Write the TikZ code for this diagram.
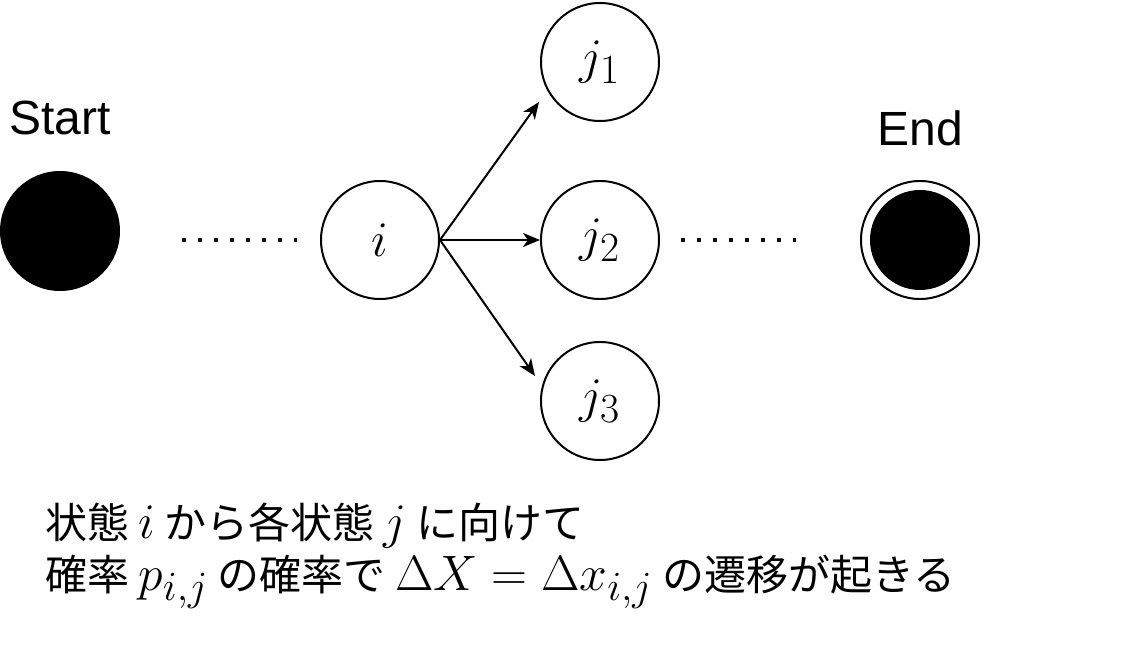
\documentclass[tikz,border=0pt]{standalone}
\usepackage[no-math]{fontspec}
\setmainfont{Liberation Sans}
\newfontfamily\jpfont{Noto Sans CJK JP}
\usepackage{amsmath}
\usetikzlibrary{arrows.meta,positioning}
\newcommand{\capmath}[1]{{\fontsize{28}{28}\selectfont$#1$}}
\tikzset{>={Stealth[length=8.5pt,width=7pt,inset=2.5pt]}}
\tikzset{state/.style={circle, draw, line width=1pt, minimum size=59pt,
    inner sep=0pt, font=\fontsize{30}{32}\selectfont}}
\tikzset{blob/.style={circle, fill=black, minimum size=60pt, inner sep=0pt}}
\tikzset{dotline/.style={line width=2pt, dash pattern=on 2pt off 6pt}}
\tikzset{title/.style={font=\fontsize{24}{28}\selectfont}}
\begin{document}
\begin{tikzpicture}[x=0.5pt,y=-0.5pt]
  \useasboundingbox (0,0) rectangle (1142,662);
  % start and end
  \node[blob] (start) at (60,231) {};
  \node[title] (starttxt) at (60,118) {Start};
  \node[state] (end) at (920,240) {};
  \node[blob, minimum size=50pt] (endin) at (end) {};
  \node[title] (endtxt) at (920,128) {End};
  % states
  \node[state] (i) at (380,240) {$i$};
  \node[state] (j1) at (600,62) {$j_1$};
  \node[state] (j2) at (600,240) {$j_2$};
  \node[state] (j3) at (600,401) {$j_3$};
  \draw[dotline] ([shift={(62,9)}]start.east) -- ([shift={(-23,0)}]i.west);
  \draw[dotline] ([shift={(21,0)}]j2.east) -- ([shift={(-64,0)}]end.west);
  \draw[->, line width=1pt] (i.east) -- ([shift={(-1,40)}]j1.west);
  \draw[->, line width=1pt] (i.east) -- (j2.west);
  \draw[->, line width=1pt] (i.east) -- ([shift={(-5,-25)}]j3.west);
  % caption
  \node[anchor=west, align=left, font=\jpfont\fontsize{21}{26}\selectfont]
    (caption) at (38,556)
    {状態 \capmath{i} から各状態 \capmath{j} に向けて\\
     確率 \capmath{p_{i,j}} の確率で \capmath{\Delta X=\Delta x_{i,j}} の遷移が起きる};
\end{tikzpicture}
\end{document}
